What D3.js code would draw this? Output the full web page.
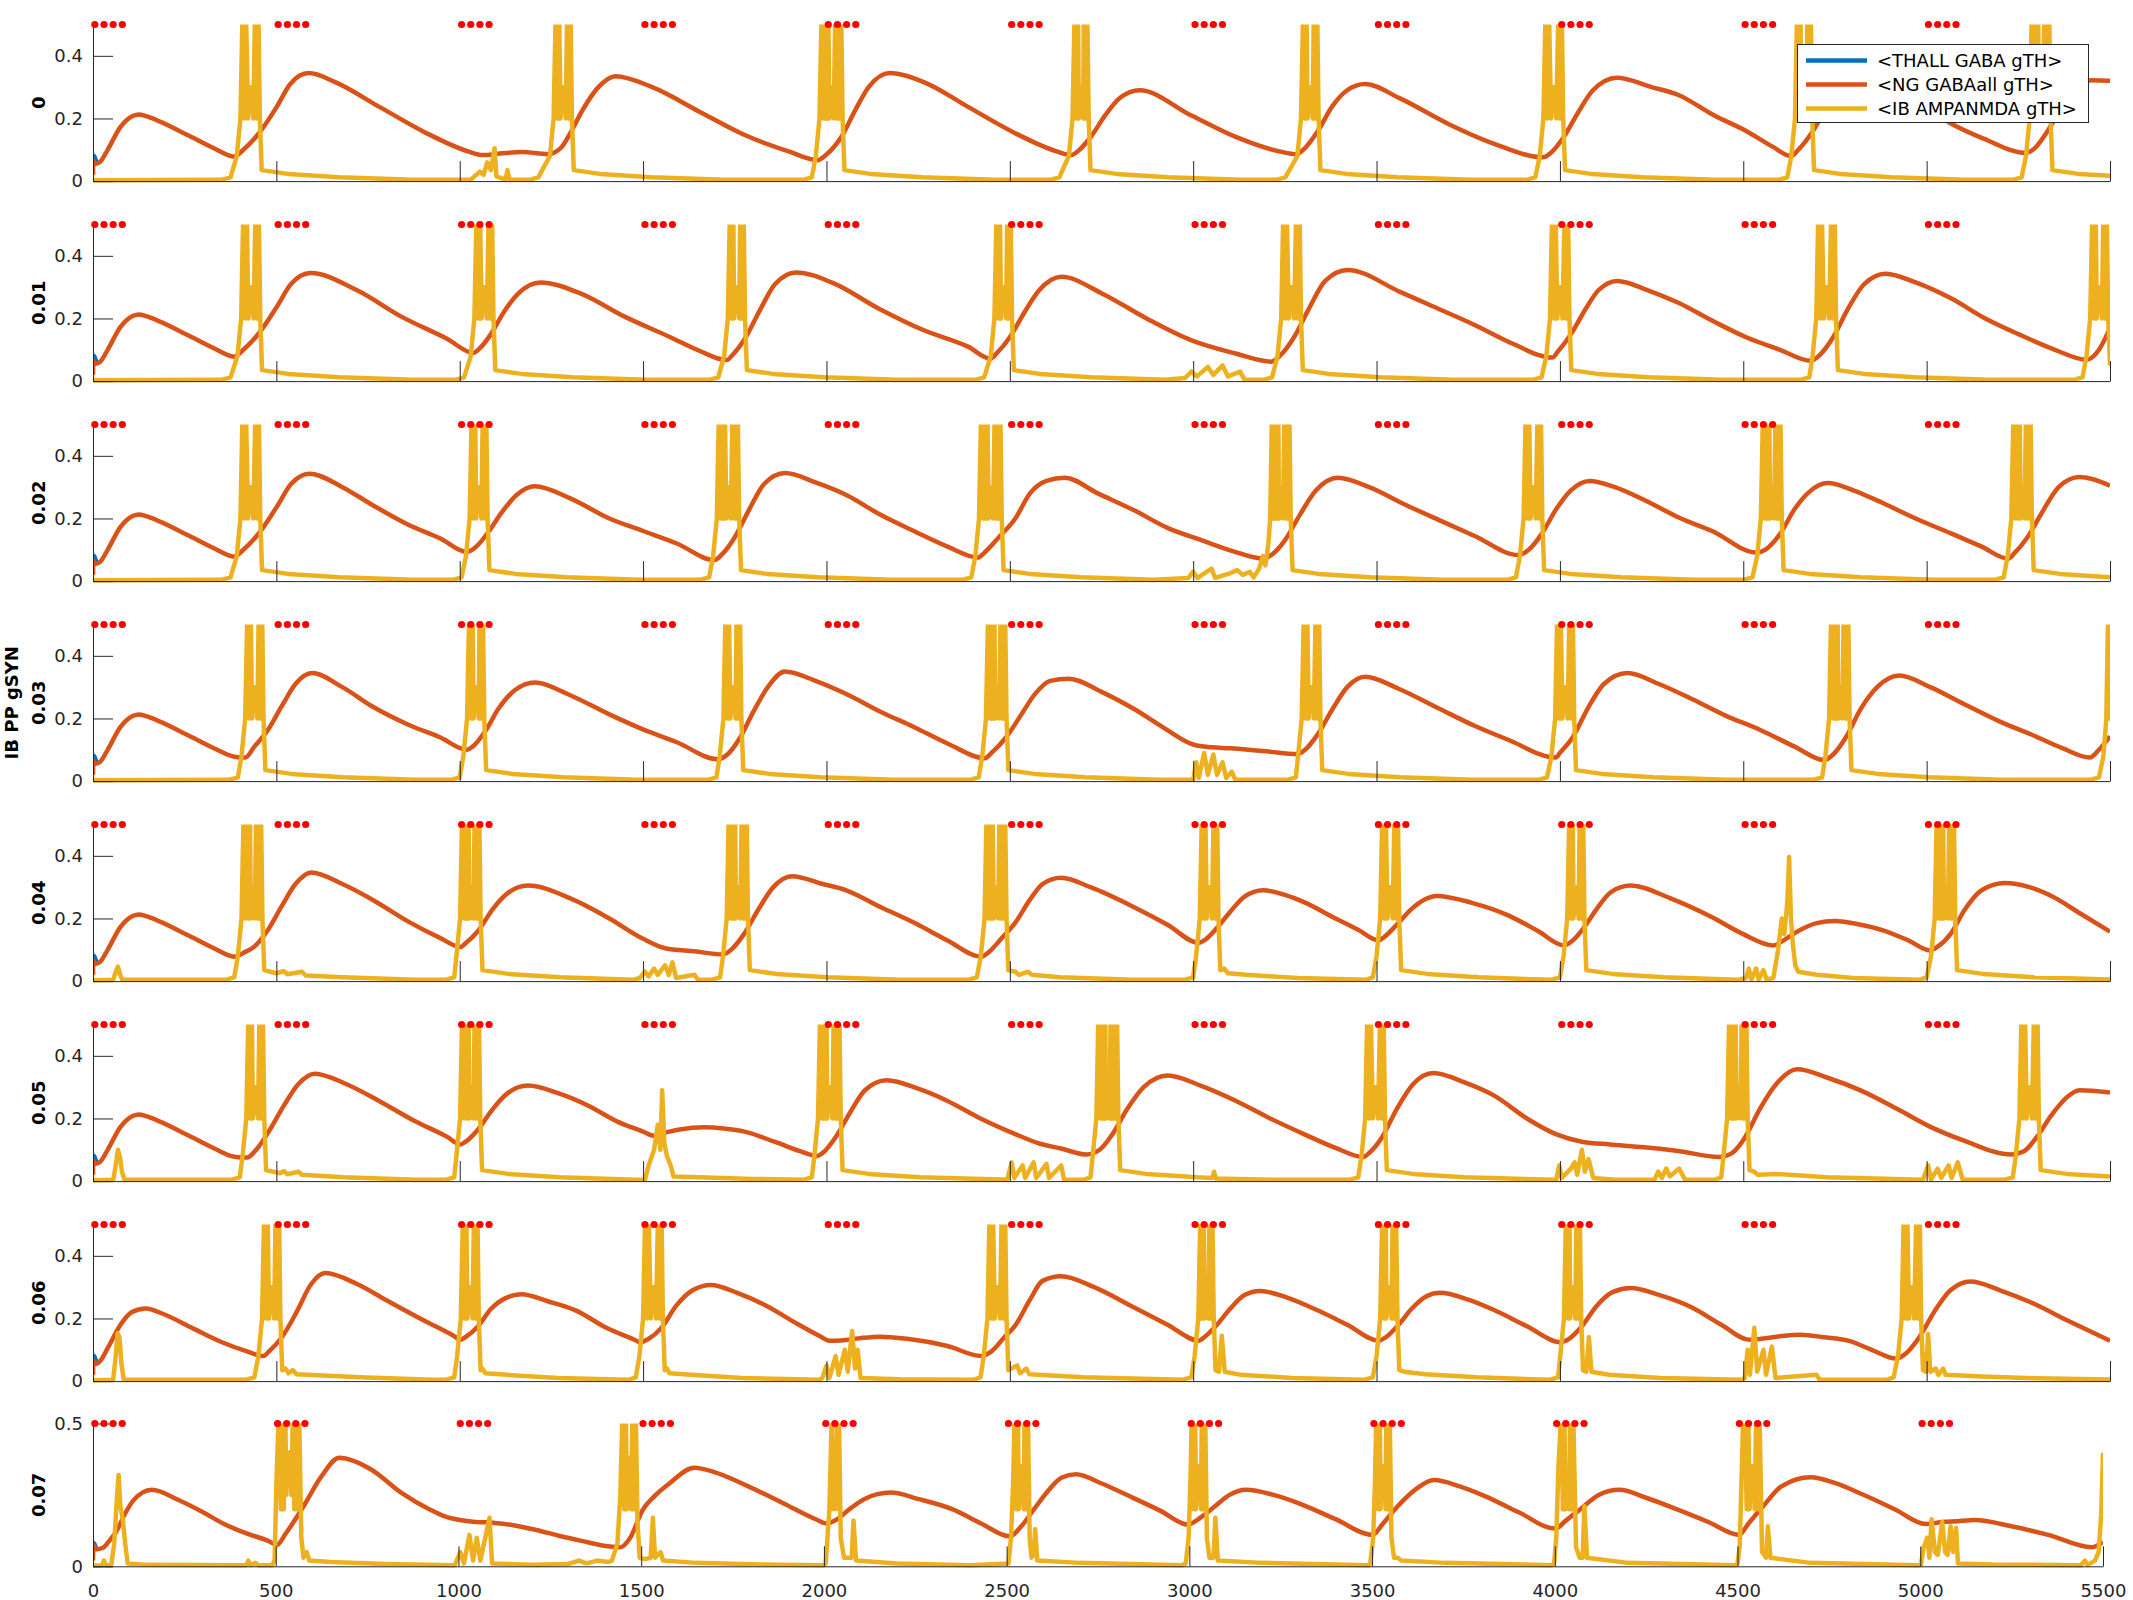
<!DOCTYPE html>
<html><head><meta charset="utf-8">
<script src="https://cdn.jsdelivr.net/npm/d3@7"></script>
<style>body{margin:0;background:#fff}</style>
</head><body>
<svg id="chart" width="2133" height="1600"></svg>
<script>
// ---------------- DATA ----------------
const gsynLabels = ["0","0.01","0.02","0.03","0.04","0.05","0.06","0.07"];
const yAxisTitle = "IB PP gSYN";
const seriesNames = ["<THALL GABA gTH>","<NG GABAall gTH>","<IB AMPANMDA gTH>"];
const xTickValues = [0,500,1000,1500,2000,2500,3000,3500,4000,4500,5000,5500];
const yTickValuesTop = [0,0.2,0.4];
const yTickValuesLast = [0,0.5];
const stimTimes = [5,30,55,80,505,530,555,580,1005,1030,1055,1080,1505,1530,1555,1580,2005,2030,2055,2080,2505,2530,2555,2580,3005,3030,3055,3080,3505,3530,3555,3580,4005,4030,4055,4080,4505,4530,4555,4580,5005,5030,5055,5080];
const stimLevel = 0.5;

const thallGaba = [[0,0.07],[1,0.082],[4,0.078],[8,0.065],[12,0.058]];

const ngHump = [[0,0.02],[1,0.065],[8,0.055],[20,0.062],[40,0.1],[75,0.173],[100,0.203],[124,0.213],[173,0.195],[258,0.147],[331,0.104],[385,0.078]];

const ng_00 = ngHump.concat([[410,0.1],[452,0.152],[501,0.237],[538,0.31],[588,0.345],[659,0.317],[781,0.237],[903,0.157],[1025,0.094],[1062,0.083],[1110,0.088],[1171,0.093],[1240,0.086],[1275,0.105],[1300,0.15],[1335,0.227],[1378,0.3],[1425,0.335],[1525,0.3],[1655,0.221],[1777,0.147],[1899,0.094],[1975,0.067],[2000,0.085],[2040,0.14],[2080,0.23],[2115,0.3],[2173,0.345],[2264,0.317],[2386,0.237],[2508,0.157],[2630,0.094],[2667,0.083],[2690,0.1],[2720,0.14],[2760,0.21],[2800,0.265],[2854,0.29],[2994,0.21],[3116,0.141],[3238,0.094],[3281,0.086],[3300,0.1],[3340,0.16],[3380,0.24],[3420,0.29],[3469,0.31],[3564,0.264],[3700,0.18],[3830,0.115],[3955,0.076],[3975,0.09],[4010,0.14],[4050,0.22],[4090,0.29],[4156,0.33],[4250,0.3],[4323,0.275],[4420,0.21],[4508,0.16],[4580,0.11],[4630,0.08],[4650,0.1],[4690,0.16],[4730,0.24],[4780,0.29],[4850,0.31],[4950,0.275],[5065,0.185],[5157,0.135],[5269,0.09],[5290,0.1],[5330,0.16],[5370,0.24],[5410,0.3],[5450,0.322],[5500,0.32]]);

const ng_01 = ngHump.concat([[410,0.1],[452,0.152],[501,0.237],[540,0.31],[593,0.345],[720,0.29],[842,0.205],[964,0.136],[1037,0.09],[1055,0.105],[1085,0.15],[1120,0.22],[1160,0.28],[1220,0.315],[1329,0.28],[1451,0.205],[1573,0.141],[1655,0.096],[1728,0.067],[1745,0.085],[1780,0.14],[1820,0.23],[1860,0.31],[1917,0.347],[2020,0.312],[2142,0.232],[2264,0.163],[2386,0.11],[2447,0.072],[2465,0.09],[2500,0.14],[2540,0.22],[2580,0.29],[2641,0.333],[2751,0.28],[2873,0.2],[2994,0.131],[3116,0.088],[3213,0.062],[3240,0.085],[3275,0.14],[3315,0.23],[3360,0.32],[3421,0.355],[3564,0.285],[3670,0.23],[3766,0.18],[3870,0.12],[3979,0.075],[3995,0.095],[4030,0.15],[4070,0.23],[4105,0.29],[4156,0.32],[4240,0.29],[4323,0.25],[4420,0.19],[4508,0.14],[4600,0.1],[4684,0.065],[4710,0.085],[4745,0.14],[4785,0.23],[4830,0.31],[4888,0.343],[4970,0.315],[5065,0.265],[5160,0.2],[5250,0.15],[5350,0.1],[5436,0.068],[5470,0.1],[5500,0.17]]);

const ng_02 = ngHump.concat([[410,0.1],[452,0.152],[501,0.237],[540,0.31],[590,0.343],[680,0.3],[762,0.243],[860,0.18],[946,0.137],[1020,0.093],[1045,0.11],[1080,0.16],[1115,0.22],[1155,0.275],[1205,0.303],[1300,0.265],[1408,0.2],[1500,0.16],[1592,0.12],[1694,0.067],[1715,0.085],[1750,0.14],[1790,0.23],[1830,0.31],[1887,0.345],[1970,0.315],[2054,0.275],[2150,0.21],[2238,0.16],[2330,0.11],[2413,0.075],[2430,0.09],[2470,0.14],[2515,0.2],[2555,0.28],[2600,0.32],[2650,0.33],[2740,0.28],[2839,0.226],[2930,0.17],[3024,0.13],[3110,0.095],[3191,0.072],[3215,0.085],[3250,0.13],[3290,0.21],[3335,0.29],[3395,0.33],[3480,0.3],[3580,0.243],[3680,0.19],[3766,0.145],[3887,0.083],[3915,0.1],[3950,0.15],[3990,0.23],[4030,0.29],[4081,0.32],[4150,0.3],[4230,0.259],[4330,0.2],[4415,0.16],[4536,0.091],[4560,0.1],[4600,0.15],[4640,0.23],[4680,0.285],[4731,0.313],[4800,0.29],[4879,0.25],[4970,0.2],[5065,0.153],[5150,0.11],[5222,0.072],[5240,0.09],[5275,0.14],[5315,0.22],[5360,0.3],[5417,0.332],[5500,0.305]]);

const ng_03 = ngHump.concat([[415,0.075],[440,0.11],[475,0.16],[515,0.24],[552,0.31],[597,0.345],[680,0.3],[762,0.238],[860,0.18],[946,0.14],[1020,0.1],[1035,0.11],[1070,0.16],[1105,0.23],[1150,0.29],[1205,0.315],[1300,0.275],[1408,0.213],[1500,0.165],[1592,0.124],[1703,0.07],[1730,0.085],[1765,0.14],[1800,0.22],[1840,0.3],[1887,0.35],[1970,0.32],[2054,0.278],[2150,0.22],[2238,0.173],[2330,0.12],[2432,0.073],[2450,0.09],[2490,0.14],[2530,0.21],[2570,0.28],[2610,0.32],[2660,0.327],[2750,0.285],[2839,0.23],[2920,0.17],[3002,0.116],[3050,0.108],[3100,0.105],[3200,0.095],[3284,0.086],[3305,0.1],[3340,0.15],[3380,0.23],[3420,0.3],[3469,0.333],[3560,0.295],[3673,0.23],[3770,0.175],[3859,0.132],[3989,0.075],[4000,0.09],[4035,0.14],[4075,0.23],[4120,0.31],[4184,0.345],[4270,0.31],[4360,0.262],[4450,0.21],[4545,0.164],[4640,0.11],[4721,0.067],[4745,0.085],[4780,0.14],[4820,0.23],[4865,0.3],[4925,0.337],[5010,0.3],[5102,0.246],[5200,0.19],[5287,0.148],[5370,0.105],[5445,0.075],[5470,0.1],[5500,0.143]]);

const ng_04 = ngHump.concat([[410,0.09],[440,0.11],[475,0.16],[515,0.24],[552,0.31],[595,0.347],[680,0.31],[762,0.26],[860,0.19],[946,0.138],[1002,0.109],[1015,0.12],[1050,0.16],[1090,0.23],[1130,0.28],[1186,0.305],[1300,0.265],[1408,0.2],[1500,0.135],[1560,0.105],[1640,0.095],[1718,0.085],[1740,0.1],[1775,0.15],[1815,0.23],[1855,0.3],[1906,0.335],[1990,0.31],[2054,0.29],[2150,0.235],[2238,0.187],[2330,0.13],[2422,0.078],[2440,0.09],[2480,0.14],[2515,0.187],[2555,0.26],[2589,0.31],[2640,0.33],[2720,0.3],[2839,0.236],[2930,0.18],[3015,0.122],[3030,0.13],[3065,0.17],[3100,0.22],[3140,0.27],[3191,0.29],[3250,0.275],[3302,0.252],[3380,0.205],[3451,0.163],[3506,0.13],[3520,0.14],[3555,0.18],[3595,0.23],[3630,0.26],[3664,0.272],[3760,0.25],[3859,0.21],[3940,0.16],[4011,0.114],[4030,0.125],[4065,0.17],[4100,0.23],[4140,0.285],[4193,0.305],[4300,0.265],[4415,0.204],[4500,0.15],[4582,0.114],[4610,0.13],[4650,0.16],[4700,0.185],[4749,0.192],[4820,0.18],[4879,0.163],[4950,0.13],[5009,0.098],[5030,0.11],[5065,0.15],[5105,0.23],[5150,0.29],[5213,0.313],[5280,0.3],[5343,0.27],[5420,0.215],[5500,0.158]]);

const ng_05 = ngHump.concat([[420,0.075],[445,0.1],[480,0.16],[520,0.24],[560,0.31],[605,0.343],[690,0.31],[780,0.256],[880,0.19],[965,0.142],[1002,0.117],[1015,0.125],[1050,0.165],[1090,0.23],[1130,0.28],[1186,0.305],[1270,0.28],[1352,0.24],[1430,0.19],[1500,0.158],[1528,0.145],[1560,0.155],[1600,0.165],[1666,0.172],[1720,0.168],[1777,0.158],[1860,0.125],[1930,0.095],[1975,0.08],[1990,0.09],[2025,0.14],[2065,0.22],[2105,0.29],[2164,0.322],[2250,0.295],[2330,0.256],[2420,0.2],[2515,0.15],[2580,0.12],[2640,0.104],[2709,0.085],[2745,0.1],[2780,0.15],[2820,0.23],[2865,0.3],[2931,0.337],[3020,0.305],[3117,0.256],[3210,0.2],[3302,0.15],[3390,0.105],[3464,0.077],[3480,0.09],[3515,0.14],[3555,0.23],[3600,0.31],[3655,0.345],[3740,0.315],[3822,0.272],[3910,0.2],[3989,0.15],[4063,0.125],[4137,0.117],[4230,0.108],[4323,0.096],[4434,0.077],[4470,0.09],[4505,0.14],[4545,0.23],[4590,0.31],[4647,0.357],[4730,0.33],[4823,0.288],[4920,0.23],[5009,0.174],[5100,0.13],[5232,0.085],[5265,0.095],[5300,0.14],[5340,0.21],[5380,0.265],[5417,0.29],[5500,0.283]]);

const ng_06 = [[0,0.02],[1,0.065],[8,0.055],[20,0.065],[40,0.105],[75,0.18],[105,0.22],[144,0.232],[190,0.215],[270,0.17],[350,0.125],[420,0.095],[465,0.08],[480,0.095],[515,0.14],[555,0.22],[595,0.31],[633,0.345],[720,0.31],[799,0.259],[900,0.195],[983,0.145],[1002,0.132],[1015,0.14],[1050,0.175],[1085,0.23],[1125,0.265],[1168,0.277],[1240,0.255],[1316,0.226],[1400,0.17],[1482,0.129],[1491,0.124],[1515,0.135],[1550,0.17],[1590,0.24],[1635,0.29],[1685,0.307],[1760,0.28],[1832,0.243],[1910,0.19],[1980,0.145],[2008,0.129],[2040,0.13],[2090,0.137],[2146,0.142],[2220,0.135],[2330,0.112],[2422,0.08],[2450,0.095],[2485,0.14],[2515,0.178],[2555,0.26],[2589,0.32],[2640,0.335],[2730,0.3],[2839,0.235],[2930,0.18],[3015,0.129],[3030,0.14],[3065,0.18],[3100,0.23],[3140,0.275],[3182,0.288],[3260,0.265],[3339,0.226],[3420,0.18],[3506,0.129],[3525,0.14],[3560,0.18],[3595,0.23],[3635,0.27],[3673,0.282],[3750,0.26],[3822,0.226],[3910,0.175],[4002,0.124],[4025,0.135],[4060,0.175],[4100,0.24],[4145,0.285],[4193,0.297],[4270,0.275],[4360,0.235],[4440,0.18],[4517,0.132],[4550,0.135],[4600,0.143],[4656,0.148],[4720,0.14],[4786,0.129],[4850,0.1],[4916,0.072],[4945,0.09],[4980,0.14],[5020,0.22],[5065,0.29],[5120,0.318],[5200,0.29],[5287,0.25],[5390,0.19],[5500,0.129]];

const ng_07 = [[0,0.02],[1,0.075],[10,0.06],[27,0.065],[45,0.09],[63,0.12],[88,0.185],[110,0.23],[161,0.268],[234,0.232],[300,0.19],[356,0.15],[420,0.115],[478,0.09],[503,0.075],[527,0.114],[576,0.21],[625,0.315],[674,0.38],[760,0.34],[845,0.256],[920,0.2],[967,0.173],[1000,0.163],[1040,0.156],[1100,0.152],[1150,0.144],[1210,0.128],[1272,0.108],[1340,0.088],[1394,0.073],[1443,0.067],[1470,0.1],[1504,0.197],[1540,0.25],[1577,0.29],[1645,0.345],[1700,0.33],[1793,0.28],[1890,0.22],[1979,0.164],[2007,0.15],[2030,0.16],[2070,0.2],[2110,0.235],[2183,0.258],[2260,0.235],[2351,0.2],[2430,0.15],[2509,0.105],[2540,0.14],[2575,0.2],[2612,0.262],[2650,0.31],[2690,0.322],[2760,0.29],[2837,0.245],[2920,0.195],[2996,0.146],[3030,0.17],[3070,0.21],[3110,0.25],[3155,0.268],[3230,0.25],[3305,0.218],[3400,0.165],[3501,0.11],[3530,0.15],[3570,0.21],[3620,0.27],[3669,0.302],[3740,0.28],[3810,0.245],[3900,0.19],[4002,0.132],[4030,0.16],[4070,0.2],[4120,0.25],[4177,0.268],[4250,0.24],[4333,0.2],[4420,0.155],[4504,0.11],[4530,0.15],[4570,0.21],[4620,0.28],[4700,0.312],[4770,0.29],[4838,0.254],[4930,0.2],[5016,0.148],[5060,0.155],[5100,0.158],[5149,0.162],[5250,0.14],[5350,0.11],[5469,0.067],[5500,0.085]];

const ib_00 = [[0,.003],[350,.004],[375,.012],[392,.08],[402,.2],[408,.55],[413,.2],[417,.55],[423,.2],[428,.3],[432,.3],[437,.2],[442,.55],[446,.2],[451,.55],[455,.2],[460,.035],[531,.023],[671,.012],[871,.004],[1030,.004],[1040,.015],[1055,.03],[1065,.02],[1075,.06],[1085,.035],[1095,.105],[1100,.015],[1125,.005],[1130,.035],[1136,.005],[1189,.004],[1214,.012],[1246,.08],[1256,.2],[1262,.55],[1267,.2],[1271,.55],[1275,.2],[1280,.3],[1284,.3],[1289,.2],[1293,.55],[1297,.2],[1302,.55],[1306,.2],[1311,.035],[1382,.023],[1522,.012],[1722,.004],[1935,.004],[1960,.012],[1971,.08],[1981,.2],[1987,.55],[1992,.2],[1996,.55],[2001,.2],[2005,.55],[2008,.2],[2012,.3],[2016,.3],[2020,.2],[2024,.55],[2029,.2],[2033,.55],[2037,.2],[2040,.55],[2044,.2],[2049,.035],[2120,.023],[2260,.012],[2460,.004],[2610,.004],[2635,.012],[2661,.08],[2671,.2],[2677,.55],[2682,.2],[2686,.55],[2688,.2],[2692,.3],[2696,.3],[2700,.2],[2702,.55],[2706,.2],[2711,.55],[2715,.2],[2720,.035],[2791,.023],[2931,.012],[3131,.004],[3226,.004],[3251,.012],[3284,.08],[3294,.2],[3300,.55],[3305,.2],[3309,.55],[3312,.2],[3317,.3],[3321,.3],[3326,.2],[3329,.55],[3333,.2],[3338,.55],[3342,.2],[3347,.035],[3418,.023],[3558,.012],[3758,.004],[3908,.004],[3933,.012],[3945,.08],[3955,.2],[3961,.55],[3966,.2],[3970,.55],[3976,.2],[3981,.3],[3985,.3],[3990,.2],[3996,.55],[4000,.2],[4005,.55],[4009,.2],[4014,.035],[4085,.023],[4225,.012],[4425,.004],[4595,.004],[4620,.012],[4631,.08],[4641,.2],[4647,.55],[4652,.2],[4656,.55],[4658,.2],[4663,.3],[4667,.3],[4672,.2],[4675,.55],[4679,.2],[4684,.55],[4688,.2],[4693,.035],[4764,.023],[4904,.012],[5104,.004],[5234,.004],[5259,.012],[5271,.08],[5281,.2],[5287,.55],[5292,.2],[5296,.55],[5300,.2],[5304,.55],[5306,.2],[5308,.3],[5312,.3],[5317,.2],[5321,.55],[5325,.2],[5329,.55],[5332,.2],[5334,.55],[5338,.2],[5343,.035],[5414,.023],[5500,.017]];

const ib_01 = [[0,.003],[350,.004],[375,.012],[394,.08],[404,.2],[410,.55],[415,.2],[419,.55],[424,.2],[429,.3],[433,.3],[438,.2],[443,.55],[447,.2],[452,.55],[456,.2],[461,.035],[532,.023],[672,.012],[872,.004],[987,.004],[1012,.012],[1030,.08],[1040,.2],[1046,.55],[1051,.2],[1055,.55],[1060,.2],[1065,.3],[1069,.3],[1074,.2],[1079,.55],[1083,.2],[1088,.55],[1092,.2],[1097,.035],[1168,.023],[1308,.012],[1508,.004],[1680,.004],[1705,.012],[1721,.08],[1731,.2],[1737,.55],[1742,.2],[1746,.55],[1748,.2],[1753,.3],[1757,.3],[1762,.2],[1765,.55],[1769,.2],[1774,.55],[1778,.2],[1783,.035],[1854,.023],[1994,.012],[2194,.004],[2405,.004],[2430,.012],[2448,.08],[2458,.2],[2464,.55],[2469,.2],[2473,.55],[2476,.2],[2481,.3],[2485,.3],[2490,.2],[2493,.55],[2497,.2],[2502,.55],[2506,.2],[2511,.035],[2582,.023],[2722,.012],[2922,.004],[2978,.01],[2995,.03],[3010,.015],[3040,.045],[3055,.02],[3080,.05],[3095,.015],[3128,.03],[3140,.005],[3190,.004],[3215,.012],[3230,.08],[3240,.2],[3246,.55],[3251,.2],[3255,.55],[3261,.2],[3266,.3],[3270,.3],[3275,.2],[3281,.55],[3285,.2],[3290,.55],[3294,.2],[3299,.035],[3370,.023],[3510,.012],[3710,.004],[3925,.004],[3950,.012],[3963,.08],[3973,.2],[3979,.55],[3984,.2],[3988,.55],[3993,.2],[3998,.3],[4002,.3],[4007,.2],[4013,.55],[4017,.2],[4022,.55],[4026,.2],[4031,.035],[4102,.023],[4242,.012],[4442,.004],[4655,.004],[4680,.012],[4689,.08],[4699,.2],[4705,.55],[4710,.2],[4714,.55],[4720,.2],[4725,.3],[4729,.3],[4734,.2],[4740,.55],[4744,.2],[4749,.55],[4753,.2],[4758,.035],[4829,.023],[4969,.012],[5169,.004],[5400,.004],[5425,.012],[5436,.08],[5446,.2],[5452,.55],[5457,.2],[5461,.55],[5464,.2],[5469,.3],[5473,.3],[5478,.2],[5482,.55],[5486,.2],[5491,.55],[5495,.2],[5500,.05]];

const ib_02 = [[0,.003],[350,.004],[375,.012],[392,.08],[402,.2],[408,.55],[413,.2],[417,.55],[423,.2],[428,.3],[432,.3],[437,.2],[443,.55],[447,.2],[452,.55],[456,.2],[461,.035],[532,.023],[672,.012],[872,.004],[980,.004],[1005,.012],[1017,.08],[1027,.2],[1033,.55],[1038,.2],[1042,.55],[1045,.2],[1050,.3],[1054,.3],[1059,.2],[1063,.55],[1067,.2],[1072,.55],[1076,.2],[1081,.035],[1152,.023],[1292,.012],[1492,.004],[1655,.004],[1680,.012],[1691,.08],[1701,.2],[1707,.55],[1712,.2],[1716,.55],[1720,.2],[1723,.55],[1727,.2],[1730,.3],[1734,.3],[1739,.2],[1744,.55],[1749,.2],[1753,.55],[1756,.2],[1758,.55],[1762,.2],[1767,.035],[1838,.023],[1978,.012],[2178,.004],[2370,.004],[2395,.012],[2406,.08],[2416,.2],[2422,.55],[2427,.2],[2431,.55],[2435,.2],[2439,.55],[2442,.2],[2446,.3],[2450,.3],[2454,.2],[2459,.55],[2463,.2],[2467,.55],[2471,.2],[2474,.55],[2478,.2],[2483,.035],[2554,.023],[2694,.012],[2894,.004],[2987,.01],[3000,.03],[3012,.01],[3050,.04],[3060,.01],[3100,.025],[3120,.035],[3135,.02],[3154,.03],[3165,.012],[3180,.04],[3190,.08],[3197,.05],[3205,.12],[3210,.2],[3215,.55],[3220,.2],[3224,.55],[3228,.2],[3232,.55],[3234,.2],[3236,.3],[3240,.3],[3245,.2],[3249,.55],[3253,.2],[3257,.55],[3260,.2],[3262,.55],[3266,.2],[3271,.035],[3342,.023],[3482,.012],[3682,.004],[3855,.004],[3880,.012],[3891,.08],[3901,.2],[3907,.55],[3912,.2],[3916,.55],[3920,.2],[3925,.3],[3929,.3],[3934,.2],[3939,.55],[3943,.2],[3948,.55],[3952,.2],[3957,.035],[4028,.023],[4168,.012],[4368,.004],[4500,.004],[4525,.012],[4538,.08],[4548,.2],[4554,.55],[4559,.2],[4563,.55],[4567,.2],[4571,.55],[4573,.2],[4575,.3],[4579,.3],[4584,.2],[4588,.55],[4592,.2],[4596,.55],[4599,.2],[4601,.55],[4605,.2],[4610,.035],[4681,.023],[4821,.012],[5021,.004],[5185,.004],[5210,.012],[5221,.08],[5231,.2],[5237,.55],[5242,.2],[5246,.55],[5250,.2],[5254,.55],[5256,.2],[5258,.3],[5262,.3],[5267,.2],[5271,.55],[5275,.2],[5279,.55],[5281,.2],[5283,.55],[5287,.2],[5292,.035],[5363,.023],[5500,.012]];

const ib_03 = [[0,.003],[370,.004],[395,.012],[405,.08],[415,.2],[421,.55],[426,.2],[430,.55],[434,.2],[439,.3],[443,.3],[448,.2],[452,.55],[456,.2],[461,.55],[465,.2],[470,.035],[541,.023],[681,.012],[881,.004],[975,.004],[1000,.012],[1010,.08],[1020,.2],[1026,.55],[1031,.2],[1035,.55],[1038,.2],[1043,.3],[1047,.3],[1052,.2],[1054,.55],[1058,.2],[1063,.55],[1067,.2],[1072,.035],[1143,.023],[1283,.012],[1483,.004],[1675,.004],[1700,.012],[1709,.08],[1719,.2],[1725,.55],[1730,.2],[1734,.55],[1738,.2],[1743,.3],[1747,.3],[1752,.2],[1755,.55],[1759,.2],[1764,.55],[1768,.2],[1773,.035],[1844,.023],[1984,.012],[2184,.004],[2390,.004],[2415,.012],[2425,.08],[2435,.2],[2441,.55],[2446,.2],[2450,.55],[2454,.2],[2458,.55],[2460,.2],[2462,.3],[2466,.3],[2471,.2],[2475,.55],[2479,.2],[2483,.55],[2485,.2],[2487,.55],[2491,.2],[2496,.035],[2567,.023],[2707,.012],[2907,.004],[3000,.004],[3008,.06],[3015,.01],[3030,.09],[3040,.02],[3055,.085],[3065,.02],[3080,.06],[3090,.01],[3105,.03],[3115,.005],[3255,.004],[3280,.012],[3286,.08],[3296,.2],[3302,.55],[3307,.2],[3311,.55],[3315,.2],[3320,.3],[3324,.3],[3329,.2],[3334,.55],[3338,.2],[3343,.55],[3347,.2],[3352,.035],[3423,.023],[3563,.012],[3763,.004],[3940,.004],[3965,.012],[3977,.08],[3987,.2],[3993,.55],[3998,.2],[4002,.55],[4007,.2],[4012,.3],[4016,.3],[4021,.2],[4026,.55],[4030,.2],[4035,.55],[4039,.2],[4044,.035],[4115,.023],[4255,.012],[4455,.004],[4690,.004],[4715,.012],[4724,.08],[4734,.2],[4740,.55],[4745,.2],[4749,.55],[4753,.2],[4757,.55],[4759,.2],[4761,.3],[4765,.3],[4770,.2],[4774,.55],[4778,.2],[4782,.55],[4784,.2],[4786,.55],[4790,.2],[4795,.035],[4866,.023],[5006,.012],[5206,.004],[5445,.004],[5470,.012],[5482,.08],[5490,.2],[5495,.55],[5498,.2],[5500,.55]];

const ib_04 = [[0,.003],[55,.004],[62,.03],[68,.046],[74,.02],[80,.004],[360,.004],[385,.012],[395,.08],[405,.2],[411,.55],[416,.2],[420,.55],[424,.2],[428,.55],[430,.2],[432,.3],[436,.3],[441,.2],[445,.55],[449,.2],[453,.55],[456,.2],[458,.55],[462,.2],[467,.035],[500,.025],[520,.032],[530,.022],[570,.03],[580,.018],[680,.012],[880,.004],[960,.004],[985,.012],[991,.08],[1001,.2],[1007,.55],[1012,.2],[1016,.55],[1020,.2],[1024,.55],[1026,.2],[1028,.3],[1032,.3],[1037,.2],[1041,.55],[1045,.2],[1049,.55],[1051,.2],[1053,.55],[1057,.2],[1062,.035],[1133,.023],[1273,.012],[1473,.004],[1491,.01],[1505,.03],[1515,.015],[1530,.04],[1540,.02],[1560,.05],[1570,.02],[1580,.06],[1590,.01],[1640,.02],[1650,.004],[1685,.004],[1710,.012],[1718,.08],[1728,.2],[1734,.55],[1739,.2],[1743,.55],[1747,.2],[1751,.55],[1753,.2],[1756,.3],[1760,.3],[1765,.2],[1769,.55],[1773,.2],[1777,.55],[1780,.2],[1782,.55],[1786,.2],[1791,.035],[1862,.023],[2002,.012],[2202,.004],[2385,.004],[2410,.012],[2421,.08],[2431,.2],[2437,.55],[2442,.2],[2446,.55],[2450,.2],[2453,.55],[2456,.2],[2460,.3],[2464,.3],[2468,.2],[2472,.55],[2476,.2],[2479,.55],[2483,.2],[2487,.55],[2491,.2],[2496,.035],[2515,.03],[2525,.02],[2550,.03],[2560,.02],[2636,.012],[2836,.004],[2975,.004],[3000,.012],[3008,.08],[3018,.2],[3024,.55],[3029,.2],[3033,.55],[3037,.2],[3042,.3],[3046,.3],[3051,.2],[3056,.55],[3060,.2],[3065,.55],[3069,.2],[3074,.035],[3085,.04],[3095,.025],[3145,.02],[3285,.01],[3470,.004],[3490,.012],[3500,.08],[3510,.2],[3516,.55],[3521,.2],[3525,.55],[3530,.2],[3535,.3],[3539,.3],[3544,.2],[3549,.55],[3553,.2],[3558,.55],[3562,.2],[3567,.035],[3638,.023],[3778,.012],[3975,.004],[4000,.012],[4010,.08],[4020,.2],[4026,.55],[4031,.2],[4035,.55],[4037,.2],[4042,.3],[4046,.3],[4051,.2],[4054,.55],[4058,.2],[4063,.55],[4067,.2],[4072,.035],[4143,.023],[4283,.012],[4483,.004],[4508,.01],[4515,.04],[4522,.005],[4535,.04],[4542,.005],[4555,.035],[4564,.005],[4582,.01],[4595,.1],[4605,.2],[4612,.15],[4620,.25],[4625,.396],[4630,.2],[4635,.12],[4642,.05],[4650,.03],[4700,.02],[4800,.01],[4980,.004],[5000,.012],[5012,.08],[5022,.2],[5028,.55],[5033,.2],[5037,.55],[5041,.2],[5045,.55],[5047,.2],[5049,.3],[5053,.3],[5058,.2],[5062,.55],[5066,.2],[5070,.55],[5072,.2],[5074,.55],[5078,.2],[5083,.035],[5154,.023],[5294,.012],[5500,.005]];

const ib_05 = [[0,.003],[55,.004],[62,.05],[68,.1],[73,.08],[79,.03],[86,.004],[375,.004],[400,.012],[408,.08],[418,.2],[424,.55],[429,.2],[433,.55],[436,.2],[441,.3],[445,.3],[450,.2],[454,.55],[458,.2],[463,.55],[467,.2],[472,.035],[510,.025],[520,.032],[530,.022],[560,.03],[570,.02],[683,.012],[883,.004],[960,.004],[985,.012],[991,.08],[1001,.2],[1007,.55],[1012,.2],[1016,.55],[1020,.2],[1024,.55],[1026,.2],[1028,.3],[1032,.3],[1037,.2],[1041,.55],[1045,.2],[1049,.55],[1050,.2],[1052,.55],[1056,.2],[1061,.035],[1132,.023],[1272,.012],[1480,.004],[1505,.004],[1515,.05],[1530,.1],[1540,.18],[1547,.1],[1552,.29],[1558,.12],[1565,.08],[1575,.05],[1583,.015],[1650,.012],[1800,.007],[1935,.004],[1960,.012],[1967,.08],[1977,.2],[1983,.55],[1988,.2],[1992,.55],[1996,.2],[2000,.55],[2002,.2],[2007,.3],[2011,.3],[2016,.2],[2020,.55],[2024,.2],[2027,.55],[2031,.2],[2035,.55],[2039,.2],[2044,.035],[2115,.023],[2255,.012],[2480,.005],[2493,.005],[2505,.06],[2512,.01],[2535,.05],[2542,.01],[2565,.06],[2572,.01],[2600,.055],[2607,.01],[2640,.05],[2648,.005],[2700,.004],[2720,.012],[2726,.08],[2736,.2],[2742,.55],[2747,.2],[2751,.55],[2756,.2],[2760,.55],[2762,.2],[2765,.3],[2769,.3],[2772,.2],[2775,.55],[2779,.2],[2783,.55],[2787,.2],[2792,.55],[2796,.2],[2801,.035],[2872,.023],[3012,.012],[3052,.01],[3057,.03],[3062,.008],[3220,.004],[3425,.004],[3450,.012],[3459,.08],[3469,.2],[3475,.55],[3480,.2],[3484,.55],[3490,.2],[3495,.3],[3499,.3],[3504,.2],[3510,.55],[3514,.2],[3519,.55],[3523,.2],[3528,.035],[3599,.023],[3739,.012],[3990,.004],[3998,.05],[4005,.01],[4030,.04],[4040,.06],[4047,.02],[4060,.1],[4068,.03],[4078,.07],[4091,.01],[4150,.004],[4258,.005],[4268,.03],[4278,.01],[4290,.04],[4300,.015],[4325,.04],[4341,.005],[4420,.004],[4440,.012],[4446,.08],[4456,.2],[4462,.55],[4467,.2],[4471,.55],[4475,.2],[4479,.55],[4481,.2],[4483,.3],[4487,.3],[4492,.2],[4496,.55],[4500,.2],[4504,.55],[4506,.2],[4508,.55],[4512,.2],[4517,.035],[4530,.03],[4540,.02],[4588,.023],[4728,.012],[4990,.004],[5004,.05],[5012,.005],[5030,.04],[5040,.01],[5060,.05],[5068,.01],[5085,.06],[5098,.005],[5210,.004],[5235,.012],[5243,.08],[5253,.2],[5259,.55],[5264,.2],[5268,.55],[5273,.2],[5278,.3],[5282,.3],[5287,.2],[5293,.55],[5297,.2],[5302,.55],[5306,.2],[5311,.035],[5382,.023],[5500,.015]];

const ib_06 = [[0,.003],[55,.004],[62,.08],[67,.153],[72,.14],[78,.05],[84,.004],[415,.004],[440,.012],[451,.08],[461,.2],[467,.55],[472,.2],[476,.55],[480,.2],[485,.3],[489,.3],[494,.2],[498,.55],[502,.2],[507,.55],[511,.2],[516,.035],[525,.04],[533,.025],[545,.035],[555,.022],[727,.012],[927,.004],[960,.004],[985,.012],[993,.08],[1003,.2],[1009,.55],[1014,.2],[1018,.55],[1021,.2],[1026,.3],[1030,.3],[1035,.2],[1039,.55],[1043,.2],[1048,.55],[1052,.2],[1057,.035],[1062,.04],[1070,.025],[1128,.02],[1268,.01],[1460,.004],[1480,.012],[1490,.08],[1500,.2],[1506,.55],[1511,.2],[1515,.55],[1521,.2],[1526,.3],[1530,.3],[1535,.2],[1541,.55],[1545,.2],[1550,.55],[1554,.2],[1559,.035],[1565,.04],[1572,.025],[1630,.02],[1770,.01],[1980,.004],[1989,.01],[2000,.05],[2008,.01],[2025,.08],[2033,.02],[2050,.1],[2058,.03],[2070,.16],[2078,.04],[2085,.1],[2093,.01],[2200,.006],[2400,.004],[2420,.012],[2429,.08],[2439,.2],[2445,.55],[2450,.2],[2454,.55],[2459,.2],[2464,.3],[2468,.3],[2473,.2],[2478,.55],[2482,.2],[2487,.55],[2491,.2],[2496,.035],[2520,.05],[2528,.025],[2545,.04],[2553,.022],[2700,.012],[2970,.004],[2995,.012],[3004,.08],[3014,.2],[3020,.55],[3024,.2],[3028,.55],[3031,.2],[3034,.3],[3038,.3],[3041,.2],[3044,.55],[3048,.2],[3052,.55],[3056,.2],[3061,.035],[3070,.03],[3078,.145],[3086,.03],[3130,.02],[3270,.01],[3465,.004],[3490,.012],[3500,.08],[3510,.2],[3516,.55],[3521,.2],[3525,.55],[3527,.2],[3532,.3],[3536,.3],[3541,.2],[3544,.55],[3548,.2],[3553,.55],[3557,.2],[3562,.035],[3575,.03],[3633,.022],[3773,.012],[3970,.004],[3995,.012],[4001,.08],[4011,.2],[4017,.55],[4022,.2],[4026,.55],[4028,.2],[4033,.3],[4037,.3],[4042,.2],[4045,.55],[4049,.2],[4054,.55],[4058,.2],[4063,.035],[4072,.03],[4079,.14],[4086,.03],[4134,.02],[4274,.01],[4495,.004],[4504,.01],[4512,.1],[4518,.02],[4530,.17],[4538,.03],[4555,.1],[4562,.02],[4578,.11],[4588,.01],[4700,.02],[4708,.005],[4890,.004],[4910,.012],[4922,.08],[4932,.2],[4938,.55],[4943,.2],[4947,.55],[4952,.2],[4957,.3],[4961,.3],[4966,.2],[4972,.55],[4976,.2],[4981,.55],[4985,.2],[4990,.035],[4998,.03],[5004,.15],[5010,.03],[5025,.04],[5032,.02],[5045,.04],[5052,.02],[5150,.015],[5300,.009],[5500,.005]];

const ib_07 = [[0,.003],[25,.004],[30,.02],[35,.004],[50,.004],[58,.08],[65,.23],[70,.32],[75,.21],[82,.16],[88,.08],[95,.01],[150,.005],[420,.004],[425,.02],[432,.005],[445,.012],[452,.004],[490,.004],[497,.02],[502,.3],[509,.55],[514,.2],[518,.55],[522,.2],[526,.55],[529,.25],[533,.38],[539,.4],[543,.25],[547,.55],[551,.2],[555,.55],[559,.2],[564,.55],[570,.1],[576,.03],[585,.05],[592,.02],[650,.015],[800,.008],[990,.004],[1005,.05],[1015,.01],[1030,.11],[1040,.02],[1050,.1],[1060,.02],[1085,.17],[1092,.01],[1200,.005],[1300,.008],[1330,.02],[1350,.01],[1380,.02],[1410,.015],[1420,.02],[1435,.08],[1443,.25],[1449,.55],[1454,.2],[1458,.55],[1461,.2],[1465,.38],[1469,.38],[1473,.2],[1476,.55],[1480,.2],[1485,.55],[1490,.15],[1496,.03],[1510,.025],[1526,.03],[1532,.17],[1538,.03],[1553,.05],[1560,.02],[1650,.012],[1800,.007],[2000,.004],[2005,.01],[2015,.2],[2022,.55],[2026,.2],[2029,.3],[2033,.2],[2037,.55],[2041,.55],[2046,.1],[2055,.03],[2076,.03],[2081,.16],[2088,.02],[2200,.01],[2400,.004],[2505,.01],[2512,.1],[2518,.3],[2522,.55],[2527,.2],[2531,.55],[2533,.2],[2538,.35],[2542,.35],[2547,.2],[2549,.55],[2553,.2],[2558,.55],[2563,.1],[2568,.03],[2574,.04],[2578,.13],[2584,.02],[2700,.012],[2980,.004],[2990,.01],[2998,.1],[3003,.3],[3007,.55],[3012,.2],[3016,.55],[3018,.2],[3023,.35],[3027,.35],[3032,.2],[3034,.55],[3038,.2],[3043,.55],[3048,.1],[3055,.03],[3066,.03],[3071,.17],[3078,.02],[3200,.012],[3490,.004],[3495,.01],[3503,.1],[3508,.3],[3512,.55],[3517,.2],[3521,.55],[3523,.2],[3528,.35],[3532,.35],[3537,.2],[3539,.55],[3543,.2],[3548,.55],[3553,.1],[3560,.03],[3570,.03],[3580,.02],[3700,.012],[3990,.004],[3998,.01],[4004,.1],[4010,.35],[4018,.55],[4022,.2],[4026,.55],[4029,.2],[4032,.3],[4036,.3],[4039,.2],[4042,.55],[4046,.2],[4050,.55],[4058,.067],[4068,.03],[4076,.03],[4081,.21],[4088,.03],[4200,.012],[4495,.004],[4500,.01],[4506,.07],[4515,.5],[4520,.55],[4525,.2],[4529,.55],[4533,.2],[4538,.35],[4542,.35],[4547,.2],[4551,.55],[4555,.2],[4560,.55],[4567,.05],[4578,.03],[4583,.14],[4590,.03],[4700,.012],[4995,.004],[5002,.005],[5008,.06],[5019,.1],[5025,.03],[5031,.165],[5040,.05],[5048,.04],[5060,.155],[5068,.05],[5075,.04],[5083,.14],[5090,.05],[5098,.135],[5103,.01],[5200,.006],[5440,.004],[5450,.02],[5458,.005],[5478,.02],[5488,.05],[5495,.18],[5500,.397]];

const ngSeries = [ng_00, ng_01, ng_02, ng_03, ng_04, ng_05, ng_06, ng_07];
const ibSeries = [ib_00, ib_01, ib_02, ib_03, ib_04, ib_05, ib_06, ib_07];

// ---------------- DRAWING ----------------
const colors = {thall:"#0072BD", ng:"#D95319", ib:"#EDB120", stim:"#FF0000", axis:"#262626"};
const FONT = "'DejaVu Sans', sans-serif";
const svg = d3.select("#chart");
svg.append("rect").attr("width",2133).attr("height",1600).attr("fill","#fff");

gsynLabels.forEach((lab, i) => {
  const last = i === gsynLabels.length - 1;
  const left = 93;
  const top = last ? 1423.5 : 24.5 + 200 * i;
  const height = last ? 142.8 : 156.6;
  const width = last ? 2010 : 2017;

  const x = d3.scaleLinear().domain([0, 5500]).range([0, width]);
  const y = d3.scaleLinear().domain([0, 0.5]).range([height, 0]);
  const g = svg.append("g").attr("transform", `translate(${left},${top})`);

  const clipId = "clip" + i;
  g.append("clipPath").attr("id", clipId).append("rect")
    .attr("x", 0).attr("y", 0).attr("width", width).attr("height", height + 4);

  const plot = g.append("g").attr("clip-path", `url(#${clipId})`);
  const lineLin = d3.line().x(d => x(d[0])).y(d => y(d[1]));
  const lineSmooth = d3.line().x(d => x(d[0])).y(d => y(d[1])).curve(d3.curveMonotoneX);

  plot.append("path").datum(thallGaba).attr("d", lineLin)
    .attr("fill","none").attr("stroke", colors.thall).attr("stroke-width", 4.5).attr("stroke-linejoin","round");
  plot.append("path").datum(ngSeries[i]).attr("d", lineSmooth)
    .attr("fill","none").attr("stroke", colors.ng).attr("stroke-width", 4.5).attr("stroke-linejoin","round");
  plot.append("path").datum(ibSeries[i]).attr("d", lineLin)
    .attr("fill","none").attr("stroke", colors.ib).attr("stroke-width", 4.5).attr("stroke-linejoin","round");

  const yAxis = d3.axisLeft(y)
    .tickValues(last ? yTickValuesLast : yTickValuesTop)
    .tickFormat(d => d === 0 ? "0" : String(d))
    .tickSize(-20).tickSizeOuter(0).tickPadding(10);
  const xAxis = d3.axisBottom(x)
    .tickValues(xTickValues)
    .tickFormat(d => last ? String(d) : "")
    .tickSize(-20).tickSizeOuter(0).tickPadding(18);

  const gy = g.append("g").call(yAxis);
  const gx = g.append("g").attr("transform", `translate(0,${height})`).call(xAxis);
  [gx, gy].forEach(ax => {
    ax.attr("font-family", null).attr("font-size", null);
    ax.select(".domain").attr("stroke", colors.axis).attr("stroke-width", 1);
    ax.selectAll(".tick line").attr("stroke", colors.axis).attr("stroke-width", 1);
    ax.selectAll(".tick text").attr("fill", colors.axis)
      .style("font-family", FONT).style("font-size", "18px");
  });

  g.append("g").selectAll("circle").data(stimTimes).join("circle")
    .attr("cx", d => x(d)).attr("cy", y(stimLevel)).attr("r", 3.6)
    .attr("fill", colors.stim);

  const cy = top + height / 2;
  svg.append("text")
    .attr("transform", `translate(45,${cy}) rotate(-90)`)
    .attr("text-anchor", "middle")
    .style("font-family", FONT).style("font-size", "18px").style("font-weight", "bold")
    .attr("fill", "#000")
    .text(lab);
  if (i === 3) {
    svg.append("text")
      .attr("transform", `translate(18,${cy}) rotate(-90)`)
      .attr("text-anchor", "middle")
      .style("font-family", FONT).style("font-size", "18px").style("font-weight", "bold")
      .attr("fill", "#000")
      .text(yAxisTitle);
  }
});

const leg = svg.append("g");
leg.append("rect").attr("x", 1797.5).attr("y", 44.5).attr("width", 291).attr("height", 78)
  .attr("fill", "#fff").attr("stroke", "#262626").attr("stroke-width", 1);
const legColors = [colors.thall, colors.ng, colors.ib];
seriesNames.forEach((name, k) => {
  const yy = 60.5 + 24 * k;
  leg.append("line").attr("x1", 1806).attr("x2", 1867).attr("y1", yy).attr("y2", yy)
    .attr("stroke", legColors[k]).attr("stroke-width", 4.5);
  leg.append("text").attr("x", 1877).attr("y", yy).attr("dy", "0.36em")
    .style("font-family", FONT).style("font-size", "18px").attr("fill", "#000")
    .text(name);
});
</script>
</body></html>
